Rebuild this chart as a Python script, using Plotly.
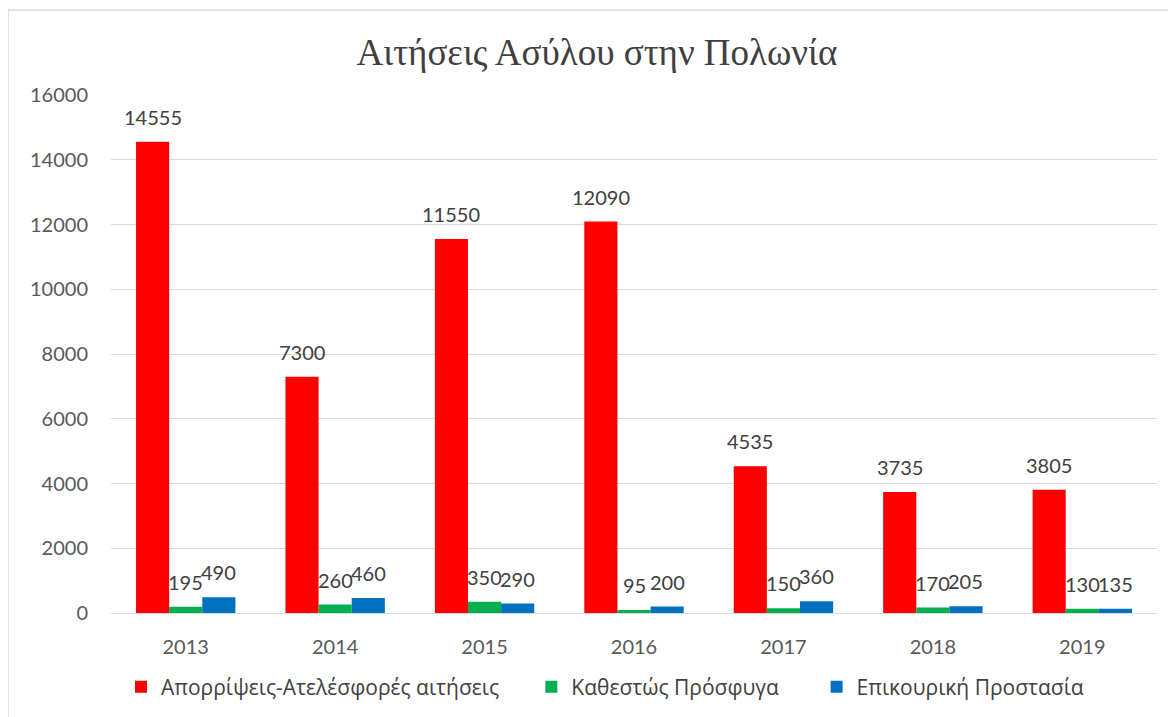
import plotly.graph_objects as go

years = ["2013", "2014", "2015", "2016", "2017", "2018", "2019"]
rejections = [14555, 7300, 11550, 12090, 4535, 3735, 3805]
refugee_status = [195, 260, 350, 95, 150, 170, 130]
subsidiary_protection = [490, 460, 290, 200, 360, 205, 135]

series_names = ["Απορρίψεις-Ατελέσφορές αιτήσεις", "Καθεστώς Πρόσφυγα", "Επικουρική Προστασία"]
colors = ["#ff0000", "#00b050", "#0070c0"]

FONT = "Lato, Carlito, Calibri, sans-serif"
GFONT = "Open Sans, Noto Sans, sans-serif"

# page body has an 8px margin: figure occupies page px 8..1176 x 8..717
W, H = 1168, 709
L, R, T, B = 103, 19, 87, 104
PW, PH = W - L - R, H - T - B
BARGAP = 0.335
bar_px = PW / len(years) * (1 - BARGAP) / 3

# trailing non-breaking spaces widen legend spacing between entries
legend_pad = ["\u00a0" * 5, "\u00a0" * 6, ""]

fig = go.Figure()
all_vals = [rejections, refugee_status, subsidiary_protection]
for i, (name, vals, col) in enumerate(zip(series_names, all_vals, colors)):
    fig.add_trace(go.Bar(
        x=years, y=vals, name=name + legend_pad[i], marker=dict(color=col, line=dict(width=0)),
        textposition="none", cliponaxis=False,
    ))
    for j, v in enumerate(vals):
        # category axis: annotation x given as the category index
        fig.add_annotation(x=j, y=v, xref="x", yref="y", text=str(v), showarrow=False,
                           xshift=(i - 1) * bar_px, yshift=25, yanchor="middle",
                           font=dict(family=FONT, size=20, color="#404040"))

fig.update_layout(
    width=W, height=H,
    paper_bgcolor="white", plot_bgcolor="white",
    margin=dict(l=L, r=R, t=T, b=B, autoexpand=False),
    barmode="group", bargap=BARGAP, bargroupgap=0,
    title=dict(text="Αιτήσεις Ασύλου στην Πολωνία", x=589 / W, xanchor="center",
               y=1 - 44 / H, yanchor="middle",
               font=dict(family="Liberation Serif, Times New Roman, serif", size=37, color="#404040")),
    legend=dict(orientation="h", x=(605 - 8) / W, xanchor="center", xref="container",
                y=(717 - 687) / H, yanchor="middle", yref="container",
                font=dict(family=GFONT, size=21, color="#404040"),
                itemwidth=30, traceorder="normal"),
    showlegend=True,
)
fig.update_xaxes(type="category", categoryorder="array", categoryarray=years,
                 range=[-0.5, len(years) - 0.5], autorange=False,
                 showgrid=False, showline=False, ticks="",
                 tickfont=dict(family=FONT, size=20, color="#595959"), ticklabelstandoff=20)
fig.update_yaxes(range=[0, 16000], autorange=False, dtick=2000, tickformat="d", showgrid=True,
                 gridcolor="#d9d9d9", gridwidth=1,
                 zeroline=True, zerolinecolor="#d9d9d9", zerolinewidth=1, showline=False, ticks="",
                 tickfont=dict(family=FONT, size=20, color="#595959"), ticklabelstandoff=22)

# outer chart border
fig.add_shape(type="rect", xref="paper", yref="paper",
              x0=(8 - 111) / PW, x1=(1185 - 111) / PW,
              y0=1 - (725 - 95) / PH, y1=1 + (95 - 10) / PH,
              line=dict(color="#d9d9d9", width=1.5), fillcolor="rgba(0,0,0,0)", layer="below")

fig.write_html("out.html")
